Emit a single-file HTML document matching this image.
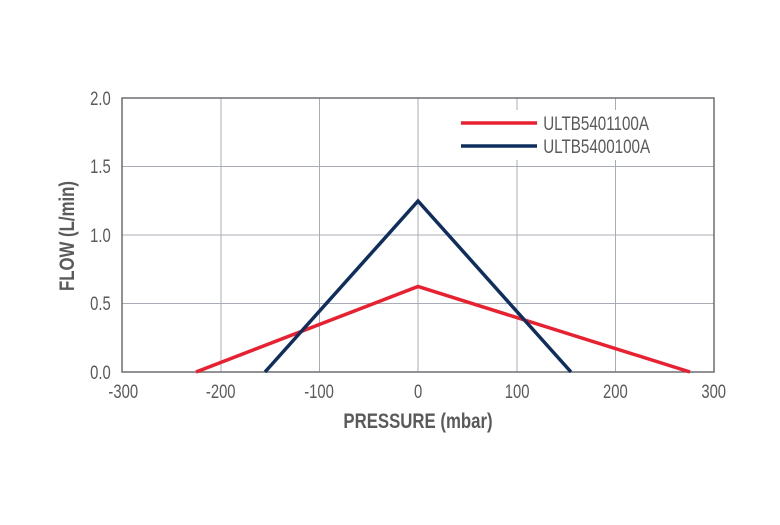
<!DOCTYPE html>
<html><head><style>body{margin:0;background:#fff}svg text{font-family:"Liberation Sans",sans-serif;fill:#5a5a5a}</style></head>
<body>
<svg width="780" height="520" viewBox="0 0 780 520" xmlns="http://www.w3.org/2000/svg">
<g stroke="#a8adb5" stroke-width="1">
<line x1="221" y1="98" x2="221" y2="372"/><line x1="319.5" y1="98" x2="319.5" y2="372"/><line x1="418" y1="98" x2="418" y2="372"/><line x1="517" y1="98" x2="517" y2="372"/><line x1="615.5" y1="98" x2="615.5" y2="372"/>
<line x1="122" y1="166.5" x2="714" y2="166.5"/><line x1="122" y1="235" x2="714" y2="235"/><line x1="122" y1="303.5" x2="714" y2="303.5"/>
</g>
<rect x="122" y="98" width="592" height="274" fill="none" stroke="#6b6e73" stroke-width="1.5"/>
<polyline points="196,372 418,286.5 690,372" fill="none" stroke="#e8202f" stroke-width="3.5"/>
<polyline points="265,372 418,201 571,372" fill="none" stroke="#0f2e5e" stroke-width="3.5"/>
<rect x="450" y="110" width="230" height="50" fill="#fff"/>
<line x1="461" y1="123" x2="537" y2="123" stroke="#e8202f" stroke-width="3.5"/>
<line x1="461" y1="146" x2="537" y2="146" stroke="#0f2e5e" stroke-width="3.5"/>
<g font-size="19" transform="scale(0.8,1)">
<text x="679" y="130">ULTB5401100A</text>
<text x="679" y="153">ULTB5400100A</text>
</g>
<g font-size="19" text-anchor="end" transform="scale(0.78,1)">
<text x="142" y="105">2.0</text><text x="142" y="173">1.5</text><text x="142" y="242">1.0</text><text x="142" y="310">0.5</text><text x="142" y="379">0.0</text>
</g>
<g font-size="19" text-anchor="middle" transform="scale(0.78,1)">
<text x="158" y="398">-300</text><text x="283" y="398">-200</text><text x="409" y="398">-100</text><text x="536" y="398">0</text><text x="663" y="398">100</text><text x="789" y="398">200</text><text x="915" y="398">300</text>
</g>
<text x="418" y="428" font-size="21" font-weight="bold" text-anchor="middle" transform="translate(418,0) scale(0.8,1) translate(-418,0)">PRESSURE (mbar)</text>
<text x="0" y="0" font-size="21" font-weight="bold" text-anchor="middle" transform="translate(74,236) rotate(-90) scale(0.8,1)">FLOW (L/min)</text>
</svg>
</body></html>
